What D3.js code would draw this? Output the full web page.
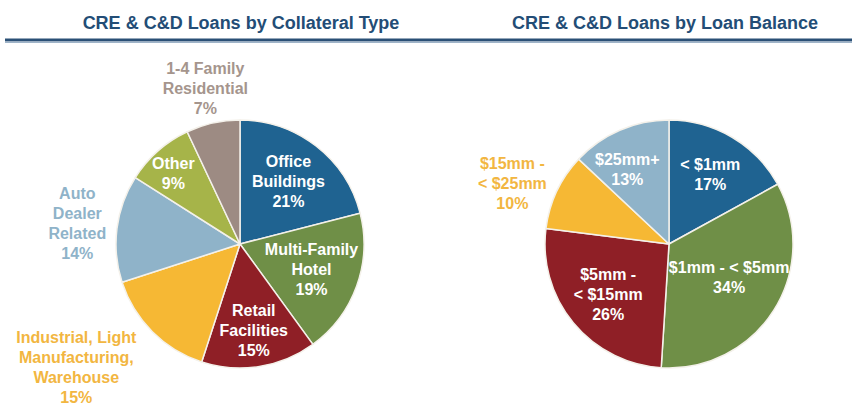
<!DOCTYPE html>
<html>
<head>
<meta charset="utf-8">
<script src="https://cdn.jsdelivr.net/npm/d3@7"></script>
<style>
  body { margin: 0; background: #fff; }
  svg { display: block; font-family: "Liberation Sans", Arial, sans-serif; }
</style>
</head>
<body>
<svg width="852" height="405"></svg>
<script>
// chart 1 - collateral type
var collateralLabels = [["Office", "Buildings"], ["Multi-Family", "Hotel"], ["Retail", "Facilities"],
  ["Industrial, Light", "Manufacturing,", "Warehouse"], ["Auto", "Dealer", "Related"], ["Other"], ["1-4 Family", "Residential"]];
var collateralValues = [21, 19, 15, 15, 14, 9, 7];
var collateralColors = ["#1f6391", "#6f8f47", "#8f1f26", "#f6b834", "#8fb3c9", "#a6b449", "#9d8b83"];
var collateralTextColors = ["#fff", "#fff", "#fff", "#f2b641", "#8fb3c9", "#fff", "#a5958d"];

// chart 2 - loan balance
var balanceLabels = [["< $1mm"], ["$1mm - < $5mm"], ["$5mm -", "< $15mm"], ["$15mm -", "< $25mm"], ["$25mm+"]];
var balanceValues = [17, 34, 26, 10, 13];
var balanceColors = ["#1f6391", "#6f8f47", "#8f1f26", "#f6b834", "#8fb3c9"];
var balanceTextColors = ["#fff", "#fff", "#fff", "#f2b641", "#fff"];

var titles = ["CRE & C&D Loans by Collateral Type", "CRE & C&D Loans by Loan Balance"];

var svg = d3.select("svg");
var titleColor = "#234d76";

// header rule
svg.append("rect").attr("x", 5).attr("y", 38.5).attr("width", 847).attr("height", 3).attr("fill", "#2b5076");
svg.append("rect").attr("x", 5).attr("y", 41.5).attr("width", 847).attr("height", 1.5).attr("fill", "#9fb4c8");

var titleX = [241, 665];
titles.forEach(function(t, i) {
  svg.append("text")
    .attr("x", titleX[i]).attr("y", 29)
    .attr("text-anchor", "middle")
    .attr("font-size", "18px")
    .attr("font-weight", "bold")
    .attr("fill", titleColor)
    .text(t);
});

// label layout: radius from centre and small angle nudge (degrees)
var collateralLabelR = [79, 76, 88, 205, 164, 97, 159];
var collateralNudge = [0, 0, 0, 8, 0, -2, 0];
var balanceLabelR = [81, 69, 79, 168, 85];
var balanceNudge = [0, -3, 0, -4, -6];

function drawPie(cx, cy, r, values, labels, colors, textColors, labelR, nudge) {
  var g = svg.append("g").attr("transform", "translate(" + cx + "," + cy + ")");
  var pie = d3.pie().sort(null).value(function(d) { return d; });
  var arcs = pie(values);
  var arc = d3.arc().innerRadius(0).outerRadius(r);

  g.selectAll("path.slice")
    .data(arcs)
    .enter()
    .append("path")
    .attr("class", "slice")
    .attr("d", arc)
    .attr("fill", function(d, i) { return colors[i]; })
    .attr("stroke", "#f4f1ea")
    .attr("stroke-width", 1.5)
    .attr("stroke-linejoin", "round");

  arcs.forEach(function(d, i) {
    var mid = (d.startAngle + d.endAngle) / 2 + nudge[i] * Math.PI / 180;
    var lr = labelR[i];
    var x = Math.sin(mid) * lr, y = -Math.cos(mid) * lr;
    var lines = labels[i].concat([values[i] + "%"]);
    var pitch = 20;
    var t = g.append("text")
      .attr("text-anchor", "middle")
      .attr("font-size", "16px")
      .attr("font-weight", "bold")
      .attr("fill", textColors[i]);
    lines.forEach(function(s, k) {
      t.append("tspan")
        .attr("x", x)
        .attr("y", y - (lines.length - 1) * pitch / 2 + k * pitch + 5.5)
        .text(s);
    });
  });
}

drawPie(240, 244, 124, collateralValues, collateralLabels, collateralColors, collateralTextColors, collateralLabelR, collateralNudge);
drawPie(669, 244, 124, balanceValues, balanceLabels, balanceColors, balanceTextColors, balanceLabelR, balanceNudge);
</script>
</body>
</html>
